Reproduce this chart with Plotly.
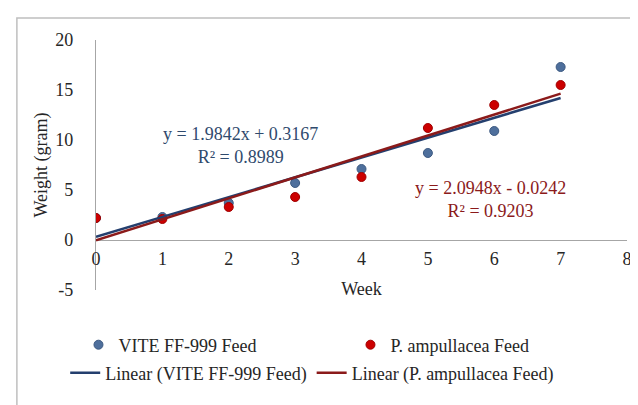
import plotly.graph_objects as go

# ---- data ----
weeks = [0, 1, 2, 3, 4, 5, 6, 7]
vite_weight = [2.2, 2.3, 3.7, 5.7, 7.1, 8.7, 10.9, 17.3]
pamp_weight = [2.2, 2.1, 3.3, 4.3, 6.3, 11.2, 13.5, 15.5]

# trendline equations shown on the chart
vite_slope, vite_intercept, vite_r2 = 1.9842, 0.3167, 0.8989
pamp_slope, pamp_intercept, pamp_r2 = 2.0948, -0.0242, 0.9203

series_names = ["VITE FF-999 Feed", "P. ampullacea Feed"]
x_ticks = [0, 1, 2, 3, 4, 5, 6, 7, 8]
y_ticks = [-5, 0, 5, 10, 15, 20]
y_tick_labels = ["-5", "0", "5", "10", "15", "20"]

FONT = "'Liberation Serif', 'Times New Roman', serif"
BLUE_PT = "#4e6f9c"
RED_PT = "#cc0000"
BLUE_LN = "#243f6e"
RED_LN = "#8b1a1a"
BLUE_TXT = "#2f4a6d"
RED_TXT = "#8b1a1a"
TXT = "#262626"

fig = go.Figure()

fig.add_trace(go.Scatter(
    x=weeks, y=vite_weight, mode="markers", name=series_names[0],
    marker=dict(size=9, color=BLUE_PT, line=dict(width=1, color="#3d5a82")),
    legend="legend"))
fig.add_trace(go.Scatter(
    x=weeks, y=pamp_weight, mode="markers", name=series_names[1],
    marker=dict(size=9, color=RED_PT, line=dict(width=1, color="#a00000")),
    legend="legend"))

tx = [weeks[0], weeks[-1]]
fig.add_trace(go.Scatter(
    x=tx, y=[vite_slope * v + vite_intercept for v in tx], mode="lines",
    name="Linear (" + series_names[0] + ")",
    line=dict(color=BLUE_LN, width=2.5), legend="legend2"))
fig.add_trace(go.Scatter(
    x=tx, y=[pamp_slope * v + pamp_intercept for v in tx], mode="lines",
    name="Linear (" + series_names[1] + ")",
    line=dict(color=RED_LN, width=2.5), legend="legend2"))

fig.add_annotation(
    x=2.17, y=9.45, xref="x", yref="y", showarrow=False,
    text=f"y = {vite_slope}x + {vite_intercept}<br>R² = {vite_r2}",
    font=dict(family=FONT, size=18, color=BLUE_TXT), align="center")
fig.add_annotation(
    x=5.94, y=4.05, xref="x", yref="y", showarrow=False,
    text=f"y = {pamp_slope}x - {abs(pamp_intercept)}<br>R² = {pamp_r2}",
    font=dict(family=FONT, size=18, color=RED_TXT), align="center")

# outer chart frame (cropped at right and bottom in the reference)
fig.add_shape(type="rect", xref="paper", yref="paper",
              x0=-0.149, x1=1.06, y0=-0.6, y1=1.088,
              line=dict(color="#bfbfbf", width=1.5), fillcolor="rgba(0,0,0,0)")

fig.update_layout(
    width=638, height=405,
    margin=dict(l=88, r=19, t=32, b=123),
    paper_bgcolor="white", plot_bgcolor="white",
    font=dict(family=FONT, size=18, color=TXT),
    showlegend=True,
    legend=dict(orientation="h", x=-0.033, xanchor="left", y=-0.22, yanchor="middle",
                entrywidth=227, font=dict(family=FONT, size=18, color=TXT),
                bgcolor="rgba(0,0,0,0)", itemwidth=30, tracegroupgap=0),
    legend2=dict(orientation="h", x=-0.058, xanchor="left", y=-0.332, yanchor="middle",
                 font=dict(family=FONT, size=18, color=TXT),
                 bgcolor="rgba(0,0,0,0)", itemwidth=30),
    xaxis=dict(range=[0, 8], tickvals=x_ticks, showgrid=False, zeroline=False,
               showline=False, anchor="free", position=0.2,
               ticklabelstandoff=6,
               title=dict(text="Week", standoff=14,
                          font=dict(family=FONT, size=18, color=TXT)),
               tickfont=dict(family=FONT, size=18, color=TXT)),
    yaxis=dict(range=[-5, 20], tickvals=y_ticks, ticktext=y_tick_labels, showgrid=False,
               zeroline=True, zerolinecolor="#a6a6a6", zerolinewidth=1.2,
               showline=True, linecolor="#a6a6a6", linewidth=1.2,
               ticklabelstandoff=18,
               title=dict(text="Weight (gram)", standoff=2,
                          font=dict(family=FONT, size=18, color=TXT)),
               tickfont=dict(family=FONT, size=18, color=TXT)),
)

fig.write_html("out.html")
